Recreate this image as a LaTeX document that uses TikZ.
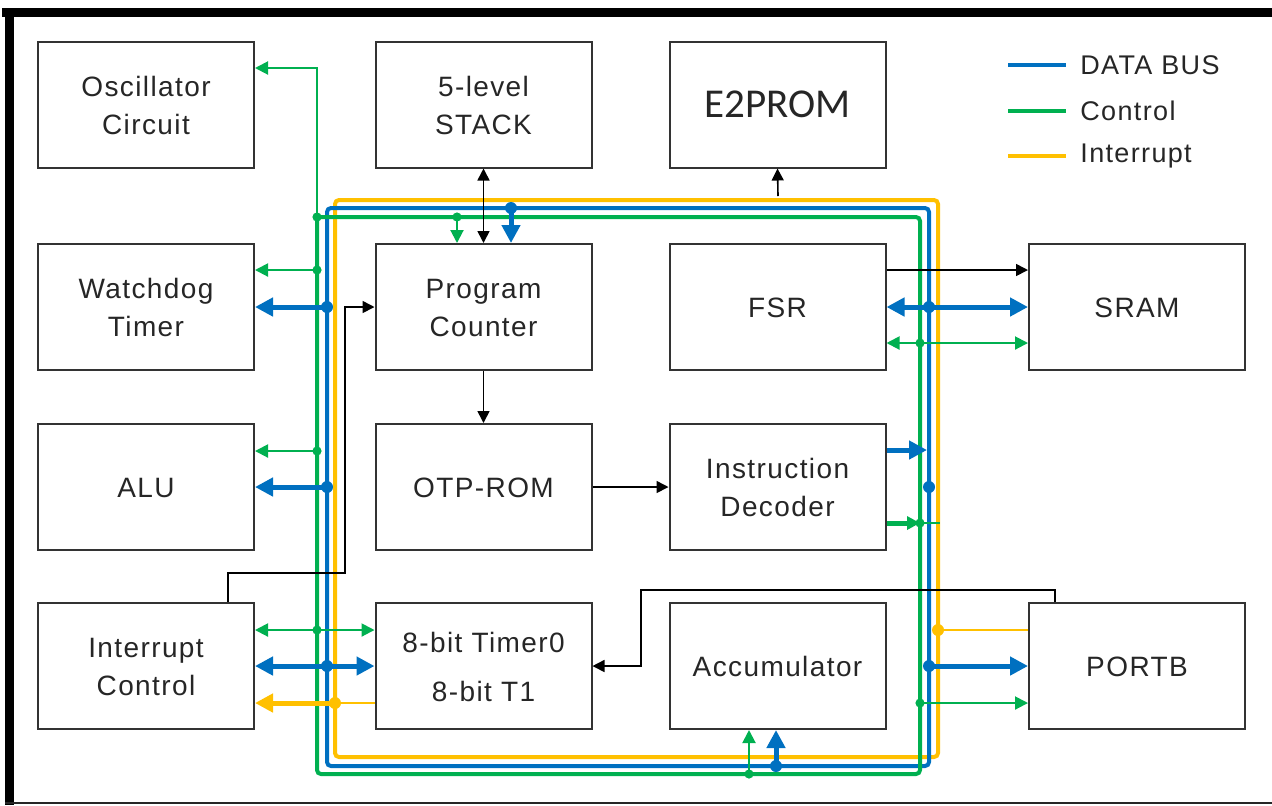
\documentclass[tikz,border=0pt]{standalone}
\usepackage{fontspec}
\setmainfont{Liberation Sans}[LetterSpace=5]
\newfontfamily\epromfont{Carlito}
\usetikzlibrary{arrows.meta}
\definecolor{dbus}{HTML}{0070C0}
\definecolor{cbus}{HTML}{00B050}
\definecolor{ibus}{HTML}{FFC000}
\newcommand\lowtxt[1]{\raisebox{-1.5pt}[\height][\depth]{\begin{tabular}{@{}c@{}}#1\end{tabular}}}
\begin{document}
\begin{tikzpicture}[x=0.5pt,y=-0.5pt,
  blk/.style={draw=black!80,line width=1pt,minimum width=108pt,minimum height=63pt,
    align=center,inner sep=0pt,text=black!85,font=\fontsize{14}{19}\selectfont},
  lgtext/.style={anchor=west,inner sep=0pt,text=black!85,font=\fontsize{13.5}{16}\selectfont},
  busline/.style={line width=2pt,rounded corners=2pt},
  gthin/.style={cbus,line width=1pt},
  gthick/.style={cbus,line width=2.5pt},
  bthick/.style={dbus,line width=2.5pt},
  ythin/.style={ibus,line width=1pt},
  ythick/.style={ibus,line width=2.5pt},
  kline/.style={black,line width=0.8pt},
  garr/.style={-{Triangle[length=6.5pt,width=6.5pt]}},
  gdarr/.style={{Triangle[length=6.5pt,width=6.5pt]}-{Triangle[length=6.5pt,width=6.5pt]}},
  barr/.style={-{Triangle[length=9pt,width=9pt]}},
  bdarr/.style={{Triangle[length=9pt,width=9pt]}-{Triangle[length=9pt,width=9pt]}},
  karr/.style={-{Triangle[length=6pt,width=6pt]}},
  kdarr/.style={{Triangle[length=6pt,width=6pt]}-{Triangle[length=6pt,width=6pt]}},
  gdot/.style={cbus},
  bdot/.style={dbus},
  ydot/.style={ibus}]
\useasboundingbox (0,0) rectangle (1272,805);
% frame
\fill[black] (2,8) rectangle (1272,17);
\fill[black] (5,8) rectangle (14,805);
\draw[black!85,line width=0.8pt] (5,803) -- (1272,803);

% blocks
\node[blk] (osc) at (146,104.5) {\lowtxt{Oscillator\\Circuit}};
\node[blk] (stk) at (483.5,104.5) {\lowtxt{5-level\\STACK}};
\node[blk] (eep) at (777.5,104.5) {\epromfont\fontsize{20.5}{24}\selectfont E2PROM};
\node[blk] (wdt) at (146,307) {\lowtxt{Watchdog\\Timer}};
\node[blk] (pc) at (483.5,307) {\lowtxt{Program\\Counter}};
\node[blk] (fsr) at (777.5,307) {\lowtxt{FSR}};
\node[blk] (sram) at (1137,307) {\lowtxt{SRAM}};
\node[blk] (alu) at (146,487) {\lowtxt{ALU}};
\node[blk] (rom) at (483.5,487) {\lowtxt{OTP-ROM}};
\node[blk] (dec) at (777.5,487) {\lowtxt{Instruction\\Decoder}};
\node[blk] (irq) at (146,666) {\lowtxt{Interrupt\\Control}};
\node[blk] (tmr) at (483.5,666) {\lowtxt{8-bit Timer0\\[5.5pt]8-bit T1}};
\node[blk] (acc) at (777.5,666) {\lowtxt{Accumulator}};
\node[blk] (prt) at (1137,666) {\lowtxt{PORTB}};

% legend
\node[lgtext] (lgD) at (1080,65) {DATA BUS};
\node[lgtext] (lgC) at (1080,111) {Control};
\node[lgtext] (lgI) at (1080,156) {Interrupt};
\draw[dbus,line width=2pt] ([xshift=-36pt]lgD.west) -- ([xshift=-7pt]lgD.west);
\draw[cbus,line width=2pt] ([xshift=-36pt]lgC.west) -- ([xshift=-7pt]lgC.west);
\draw[ibus,line width=2pt] ([xshift=-36pt]lgI.west) -- ([xshift=-7pt]lgI.west);

% bus tap coordinates
\coordinate (gTL) at (317,217);
\coordinate (gOsc) at (317,68);
\coordinate (gWdt) at (317,270);
\coordinate (bWdt) at (327,307);
\coordinate (gAlu) at (317,451);
\coordinate (bAlu) at (327,487);
\coordinate (gIrq) at (317,630);
\coordinate (bIrq) at (327,666);
\coordinate (yIrq) at (335,703);
\coordinate (gPc) at (457,217);
\coordinate (bPc) at (511,208);
\coordinate (yEep) at (778,196);
\coordinate (bFsr) at (929,307);
\coordinate (gFsr) at (920,343);
\coordinate (bDecIn) at (929,450);
\coordinate (bDec) at (929,487);
\coordinate (gDec) at (920,523);
\coordinate (gDecEnd) at (940,523);
\coordinate (yPrt) at (938,630);
\coordinate (bPrt) at (929,666);
\coordinate (gPrt) at (920,703);
\coordinate (gAcc) at (749,774);
\coordinate (bAcc) at (776,766);
\coordinate (irqUp) at (228,573);
\coordinate (pcIn) at (345,573);
\coordinate (prtUp) at (1055,590);
\coordinate (tmrIn) at (641,590);

% buses
\draw[busline,ibus] (335,200) rectangle (938,757);
\draw[busline,dbus] (327,208) rectangle (929,766);
\draw[busline,cbus] (317,217) rectangle (920,774);

% left side branches
\draw[gthin,garr] (gTL) -- (gOsc) -- (gOsc -| osc.east);
\draw[gthin,garr] (gWdt) -- (gWdt -| wdt.east);
\draw[bthick,barr] (bWdt) -- (bWdt -| wdt.east);
\draw[gthin,garr] (gAlu) -- (gAlu -| alu.east);
\draw[bthick,barr] (bAlu) -- (bAlu -| alu.east);
\draw[gthin,gdarr] (gIrq -| irq.east) -- (gIrq -| tmr.west);
\draw[bthick,bdarr] (bIrq -| irq.east) -- (bIrq -| tmr.west);
\draw[ythick,barr] (yIrq) -- (yIrq -| irq.east);
\draw[ythin] (yIrq -| tmr.west) -- (yIrq);

% top branches
\draw[gthin,garr] (gPc) -- (gPc |- pc.north);
\draw[bthick,barr] (bPc) -- (bPc |- pc.north);
\draw[kline,kdarr] (stk.south) -- (pc.north);
\draw[kline,karr] (yEep) -- (eep.south);

% internal black flow
\draw[kline,karr] (pc.south) -- (rom.north);
\draw[kline,karr] (rom.east) -- (dec.west);
\draw[kline,karr] (irq.north -| irqUp) -- (irqUp) -- (pcIn) -- (pcIn |- pc.west) -- (pc.west);
\draw[kline,karr] (prt.north -| prtUp) -- (prtUp) -- (tmrIn) -- (tmrIn |- tmr.east) -- (tmr.east);

% right side branches
\draw[kline,karr] ([yshift=18.5pt]fsr.east) -- ([yshift=18.5pt]sram.west);
\draw[bthick,bdarr] (fsr.east) -- (sram.west);
\draw[gthin,gdarr] (gFsr -| fsr.east) -- (gFsr -| sram.west);
\draw[bthick,barr] (bDecIn -| dec.east) -- ([xshift=-1pt]bDecIn);
\draw[gthick,garr] (gDec -| dec.east) -- (gDec);
\draw[gthin] (gDec) -- (gDecEnd);
\draw[ythin] (prt.west |- yPrt) -- (yPrt);
\draw[bthick,barr] (bPrt) -- (prt.west);
\draw[gthin,garr] (gPrt) -- (gPrt -| prt.west);

% bottom branches
\draw[gthin,garr] (gAcc) -- (gAcc |- acc.south);
\draw[bthick,barr] (bAcc) -- (bAcc |- acc.south);

% junction dots
\foreach \p in {gTL,gWdt,gAlu,gIrq,gPc,gFsr,gDec,gPrt,gAcc}
  \fill[gdot] (\p) circle (2.3pt);
\foreach \p in {bWdt,bAlu,bIrq,bPc,bFsr,bDec,bPrt,bAcc}
  \fill[bdot] (\p) circle (3pt);
\foreach \p in {yIrq,yPrt}
  \fill[ydot] (\p) circle (3pt);
\end{tikzpicture}
\end{document}
